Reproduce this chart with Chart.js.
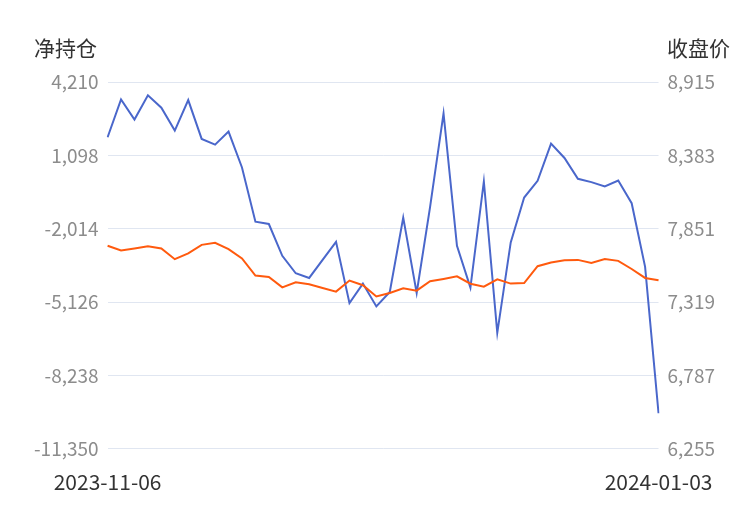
<!DOCTYPE html>
<html>
<head>
<meta charset="utf-8">
<script src="https://cdn.jsdelivr.net/npm/chart.js@4/dist/chart.umd.min.js"></script>
<style>
html,body{margin:0;padding:0;background:#fff;}
#wrap{width:750px;height:510px;position:relative;}
</style>
</head>
<body>
<div id="wrap"><canvas id="c" width="750" height="510"></canvas></div>
<script>
const dates = [
 "2023-11-06","2023-11-07","2023-11-08","2023-11-09","2023-11-10",
 "2023-11-13","2023-11-14","2023-11-15","2023-11-16","2023-11-17",
 "2023-11-20","2023-11-21","2023-11-22","2023-11-23","2023-11-24",
 "2023-11-27","2023-11-28","2023-11-29","2023-11-30","2023-12-01",
 "2023-12-04","2023-12-05","2023-12-06","2023-12-07","2023-12-08",
 "2023-12-11","2023-12-12","2023-12-13","2023-12-14","2023-12-15",
 "2023-12-18","2023-12-19","2023-12-20","2023-12-21","2023-12-22",
 "2023-12-25","2023-12-26","2023-12-27","2023-12-28","2023-12-29",
 "2024-01-02","2024-01-03"
];
const netPosition = [
 1865,3473,2620,3643,3119,2151,3443,1797,1554,2108,
 586,-1716,-1814,-3165,-3903,-4103,-3336,-2568,-5169,-4342,
 -5309,-4700,-1545,-4742,-1089,2876,-2739,-4512,-10,-6431,
 -2594,-692,19,1597,987,105,-36,-224,32,-931,
 -3634,-9841
];
const closePrice = [
 7727,7694,7708,7723,7708,7630,7672,7734,7749,7703,
 7635,7511,7501,7426,7463,7448,7421,7395,7475,7441,
 7360,7385,7419,7402,7470,7487,7506,7452,7431,7484,
 7453,7457,7579,7606,7623,7625,7603,7632,7618,7559,
 7494,7477
];
const leftTicks = [-11350,-8238,-5126,-2014,1098,4210];
const rightTicks = [6255,6787,7319,7851,8383,8915];
const leftTitle = "净持仓";
const rightTitle = "收盘价";

const FONT = "'Noto Sans CJK SC','Noto Sans',sans-serif";
const fmt = v => Math.round(v).toLocaleString('en-US');

const titlePlugin = {
  id: 'axisTitles',
  afterDraw(chart) {
    const ctx = chart.ctx;
    ctx.save();
    ctx.font = "21px " + FONT;
    ctx.fillStyle = "#333";
    ctx.textBaseline = "alphabetic";
    ctx.textAlign = "left";
    ctx.fillText(leftTitle, 34, 56);
    ctx.textAlign = "right";
    ctx.fillText(rightTitle, 730, 56);
    ctx.restore();
  }
};

new Chart(document.getElementById('c'), {
  type: 'line',
  data: {
    labels: dates,
    datasets: [
      { label: leftTitle, data: netPosition, yAxisID: 'y', borderColor: '#4a67cb', backgroundColor: '#4a67cb',
        borderWidth: 2, pointRadius: 0, tension: 0, order: 2 },
      { label: rightTitle, data: closePrice, yAxisID: 'y1', borderColor: '#ff5a0e', backgroundColor: '#ff5a0e',
        borderWidth: 2, pointRadius: 0, tension: 0, order: 1 }
    ]
  },
  options: {
    responsive: false,
    animation: false,
    layout: { padding: { top: 82, left: 25, right: 26, bottom: -6 } },
    plugins: { legend: { display: false }, tooltip: { enabled: false } },
    scales: {
      x: {
        offset: false,
        grid: { display: false, drawTicks: false },
        border: { display: false },
        ticks: {
          autoSkip: false, maxRotation: 0, minRotation: 0, padding: 21,
          color: '#333', font: { family: FONT, size: 21 },
          callback: function(v, i) { return (i === 0 || i === dates.length - 1) ? dates[i] : null; }
        }
      },
      y: {
        position: 'left',
        min: leftTicks[0], max: leftTicks[leftTicks.length - 1],
        afterBuildTicks: s => { s.ticks = leftTicks.map(v => ({ value: v })); },
        grid: { color: '#e0e6f1', drawTicks: false, lineWidth: 1 },
        border: { display: false },
        ticks: { padding: 9, color: '#8c8c8c', font: { family: FONT, size: 19 }, callback: v => fmt(v) }
      },
      y1: {
        position: 'right',
        min: rightTicks[0], max: rightTicks[rightTicks.length - 1],
        afterBuildTicks: s => { s.ticks = rightTicks.map(v => ({ value: v })); },
        grid: { display: false, drawTicks: false },
        border: { display: false },
        ticks: { padding: 9, color: '#8c8c8c', font: { family: FONT, size: 19 }, callback: v => fmt(v) }
      }
    }
  },
  plugins: [titlePlugin]
});
</script>
</body>
</html>
